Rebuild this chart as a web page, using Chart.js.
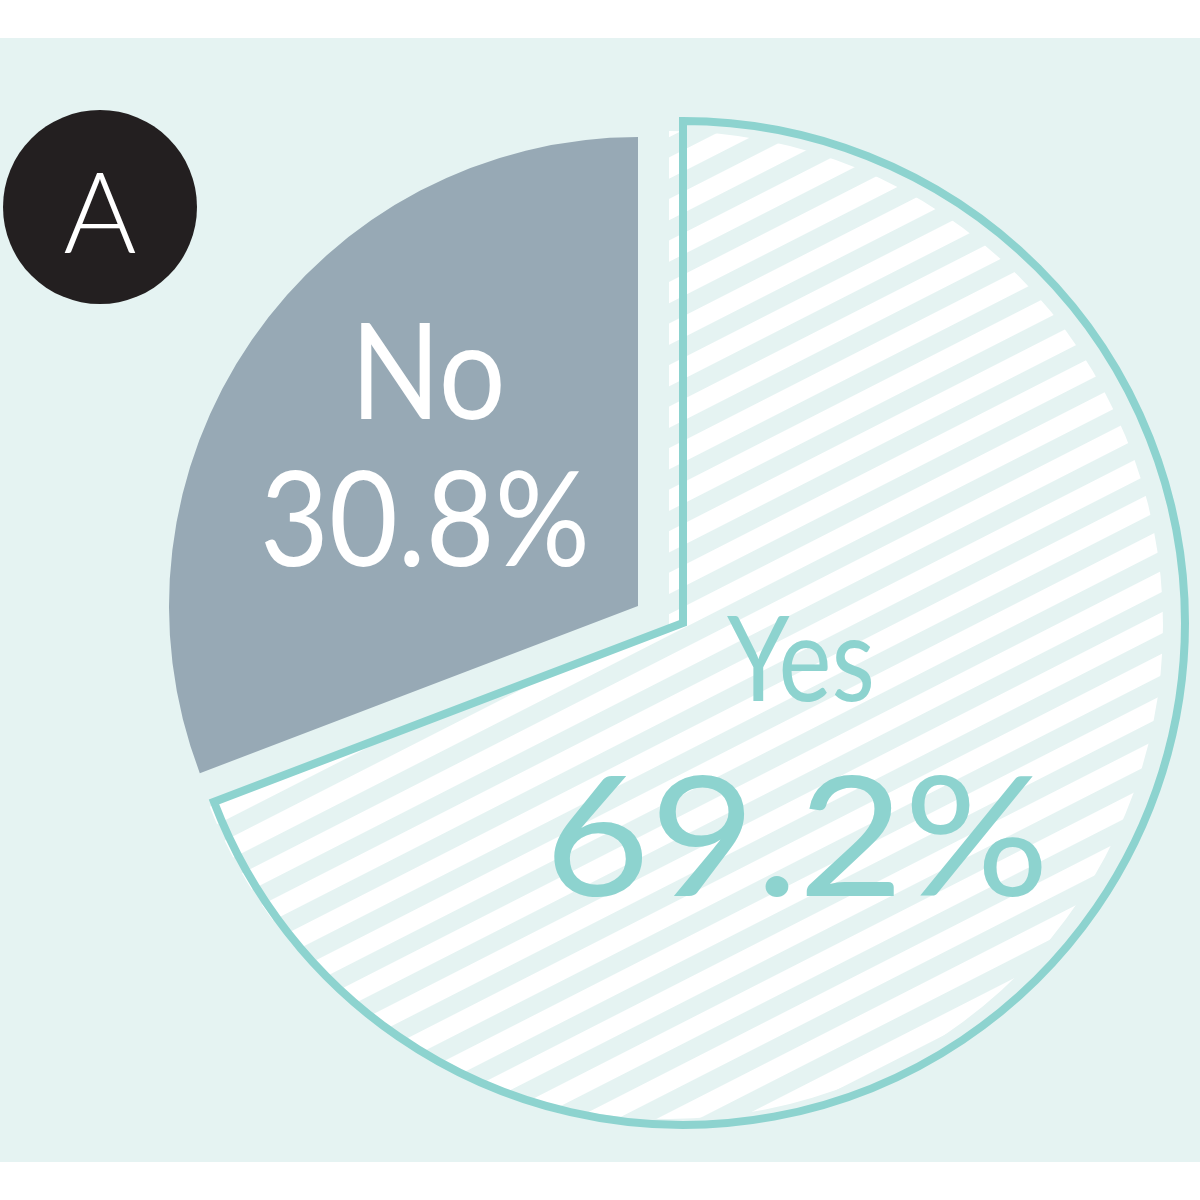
<!DOCTYPE html>
<html>
<head>
<meta charset="utf-8">
<script src="https://cdn.jsdelivr.net/npm/chart.js@4.4.1/dist/chart.umd.min.js"></script>
<style>
  html, body { margin: 0; padding: 0; background: #fff; }
  #wrap { position: relative; width: 1200px; height: 1200px; overflow: hidden; }
  #panel { position: absolute; left: 0; top: 38px; width: 1200px; height: 1124px; background: #e5f3f2; }
  #badge {
    position: absolute; left: 3px; top: 110px; width: 194px; height: 194px;
    border-radius: 50%; background: #231f20; color: #fff;
    font: 300 112px Lato, "DejaVu Sans", sans-serif; text-align: center; line-height: 200px;
  }
  #chart { position: absolute; left: 0; top: 0; }
</style>
</head>
<body>
<div id="wrap">
  <div id="panel"></div>
  <div id="badge">A</div>
  <canvas id="chart" width="1200" height="1200"></canvas>
</div>
<script>
// data
const categories = ['Yes', 'No'];
const shares = [69.2, 30.8];
const shareLabels = ['69.2%', '30.8%'];

const TEAL = '#8dd3cf';
const GREY = '#97a9b5';

// white diagonal stripes for the "Yes" slice
const makeStripes = () => {
  const tile = document.createElement('canvas');
  tile.width = 8;
  tile.height = 37;
  const t = tile.getContext('2d');
  t.fillStyle = '#ffffff';
  t.fillRect(0, 0, 8, 19);
  const pattern = t.createPattern(tile, 'repeat');
  pattern.setTransform(new DOMMatrix().rotateSelf(-27));
  return pattern;
};
const stripes = makeStripes();

// the No slice sits a bit smaller and pulled out toward the upper-left
const noSlice = {
  id: 'noSlice',
  afterDatasetsUpdate(chart) {
    const arc = chart.getDatasetMeta(0).data[1];
    arc.x -= 45;
    arc.y -= 17;
    arc.outerRadius = arc.outerRadius - 33;
  }
};

// hatched fill of the Yes slice, printed slightly off the outline
const yesFill = {
  id: 'yesFill',
  beforeDatasetsDraw(chart) {
    const arc = chart.getDatasetMeta(0).data[0];
    const ctx = chart.ctx;
    const cx = arc.x - 14, cy = arc.y + 2;
    ctx.save();
    ctx.beginPath();
    ctx.moveTo(cx, cy);
    ctx.arc(cx, cy, arc.outerRadius - 8, arc.startAngle, arc.endAngle);
    ctx.closePath();
    ctx.fillStyle = stripes;
    ctx.fill();
    ctx.restore();
  }
};

// big labels inside the slices: font size from cap height, squeezed to width
const sliceLabels = {
  id: 'sliceLabels',
  afterDatasetsDraw(chart) {
    const ctx = chart.ctx;
    const arcs = chart.getDatasetMeta(0).data;
    const put = (text, x, y, capHeight, width) => {
      ctx.font = '400 ' + (capHeight / 0.72) + 'px Lato, "DejaVu Sans", sans-serif';
      const sx = width / ctx.measureText(text).width;
      ctx.save();
      ctx.translate(x, y);
      ctx.scale(sx, 1);
      ctx.fillText(text, 0, 0);
      ctx.restore();
    };
    ctx.save();
    ctx.textAlign = 'center';
    ctx.textBaseline = 'alphabetic';

    const yes = arcs[0];
    ctx.fillStyle = TEAL;
    put(categories[0], yes.x + 118, yes.y + 78, 85, 148);
    put(shareLabels[0], yes.x + 114, yes.y + 273, 120, 505);

    const no = arcs[1];
    ctx.fillStyle = '#ffffff';
    put(categories[1], no.x - 210, no.y - 187, 97, 155);
    put(shareLabels[1], no.x - 213, no.y - 40, 95, 330);
    ctx.restore();
  }
};

new Chart(document.getElementById('chart'), {
  type: 'pie',
  data: {
    labels: categories,
    datasets: [{
      data: shares,
      backgroundColor: ['rgba(0,0,0,0)', GREY],
      borderColor: [TEAL, 'rgba(0,0,0,0)'],
      borderWidth: [8, 0],
      borderJoinStyle: 'miter',
      borderAlign: 'center'
    }]
  },
  options: {
    responsive: false,
    animation: false,
    radius: 502,
    layout: { padding: { left: 166, right: 0, top: 46, bottom: 0 } },
    plugins: {
      legend: { display: false },
      tooltip: { enabled: false }
    }
  },
  plugins: [noSlice, yesFill, sliceLabels]
});
</script>
</body>
</html>
